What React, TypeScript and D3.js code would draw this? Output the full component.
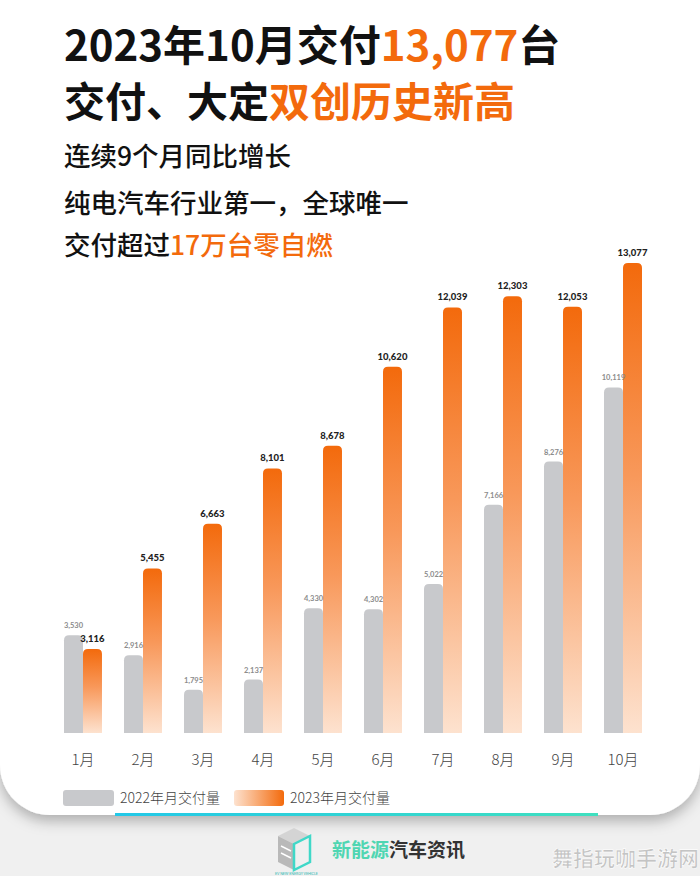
import * as d3 from "d3";

const months = ["1月", "2月", "3月", "4月", "5月", "6月", "7月", "8月", "9月", "10月"];
const series = ["2022年月交付量", "2023年月交付量"];
const deliveries2022 = [3530, 2916, 1795, 2137, 4330, 4302, 5022, 7166, 8276, 10119];
const deliveries2023 = [3116, 5455, 6663, 8101, 8678, 10620, 12039, 12303, 12053, 13077];

const W = 700;
const H = 876;
const baseline = 733;
const CJK = '"Noto Sans CJK SC", "Noto Sans", sans-serif';
const NUM = 'Lato, "Noto Sans CJK SC", sans-serif';
const ORANGE = "#f36a0c";
const GRAY = "#c8c9cc";

// rounded-top bar, flat bottom
const barPath = (x: number, y: number, w: number, h: number, r: number) => {
  const rr = Math.min(r, h, w / 2);
  return `M${x},${y + h}V${y + rr}Q${x},${y} ${x + rr},${y}H${x + w - rr}Q${x + w},${y} ${x + w},${y + rr}V${y + h}Z`;
};

export default function App() {
  const x = d3.scaleBand<string>().domain(months).range([64, 642]).paddingInner(0.367).paddingOuter(0);
  const inner = d3.scaleBand<string>().domain(series).range([0, x.bandwidth()]);
  const y = d3
    .scalePow()
    .exponent(1.2)
    .domain([0, d3.max(deliveries2023)!])
    .range([baseline, 263]);

  const rows = months.map((m, i) => ({ m, a: deliveries2022[i], b: deliveries2023[i] }));
  const fmt = d3.format(",");

  return (
    <div style={{ position: "absolute", left: 0, top: 0 }}>
      <svg width={W} height={H} viewBox={`0 0 ${W} ${H}`} style={{ display: "block" }}>
        <defs>
          <linearGradient id="barGrad" x1="0" y1="0" x2="0" y2="1">
            <stop offset="0%" stopColor="#f36a0c" />
            <stop offset="45%" stopColor="#f8985a" />
            <stop offset="100%" stopColor="#fde2cf" />
          </linearGradient>
          <linearGradient id="legendGrad" x1="0" y1="0" x2="1" y2="0">
            <stop offset="0%" stopColor="#fde2cf" />
            <stop offset="100%" stopColor="#f36a0c" />
          </linearGradient>
          <linearGradient id="lineGrad" x1="0" y1="0" x2="1" y2="0">
            <stop offset="0%" stopColor="#22c8e8" />
            <stop offset="100%" stopColor="#3fe0bf" />
          </linearGradient>
          <filter id="cardShadow" x="-10%" y="-10%" width="120%" height="120%">
            <feDropShadow dx="0" dy="6" stdDeviation="7" floodColor="#000" floodOpacity="0.28" />
          </filter>
        </defs>

        <rect x={0} y={0} width={W} height={H} fill="#f0f0f0" />
        <rect x={0} y={-80} width={W} height={895} rx={50} fill="#fff" filter="url(#cardShadow)" />
        <rect x={115} y={813} width={483} height={3} fill="url(#lineGrad)" />

        {/* headline */}
        <g fontFamily={CJK} fill="#111">
          <text x={64} y={61} fontSize={42} fontWeight={700}>
            2023年10月交付<tspan fill={ORANGE}>13,077</tspan>台
          </text>
          <text x={64} y={117} fontSize={41} fontWeight={700}>
            交付、大定<tspan fill={ORANGE}>双创历史新高</tspan>
          </text>
          <text x={64} y={166} fontSize={26.5} fontWeight={500}>
            连续9个月同比增长
          </text>
          <text x={64} y={213} fontSize={26.5} fontWeight={500}>
            纯电汽车行业第一，全球唯一
          </text>
          <text x={64} y={255} fontSize={26.5} fontWeight={500}>
            交付超过<tspan fill={ORANGE}>17万台零自燃</tspan>
          </text>
        </g>

        {/* bars */}
        {rows.map((d) => {
          const gx = x(d.m)!;
          const bw = inner.bandwidth();
          const ax = gx + inner(series[0])!;
          const bx = gx + inner(series[1])!;
          const ay = y(d.a);
          const by = y(d.b);
          return (
            <g key={d.m}>
              <path d={barPath(ax, ay, bw, baseline - ay, 5)} fill={GRAY} />
              <path d={barPath(bx, by, bw, baseline - by, 5)} fill="url(#barGrad)" />
              <text x={ax + bw / 2} y={ay - 7} textAnchor="middle" fontFamily={NUM} fontSize={7.5} fontWeight={700} fill="#8c8c8c">
                {fmt(d.a)}
              </text>
              <text x={bx + bw / 2} y={by - 7} textAnchor="middle" fontFamily={NUM} fontSize={9.5} fontWeight={900} fill="#222">
                {fmt(d.b)}
              </text>
              <text x={gx + x.bandwidth() / 2} y={765} textAnchor="middle" fontFamily={CJK} fontSize={15} fontWeight={300} fill="#444">
                {d.m}
              </text>
            </g>
          );
        })}

        {/* legend */}
        <g fontFamily={CJK} fontSize={14} fill="#444" fontWeight={300}>
          <rect x={63} y={790} width={51} height={16} rx={3} fill={GRAY} />
          <text x={120} y={803}>{series[0]}</text>
          <rect x={234} y={790} width={50} height={16} rx={3} fill="url(#legendGrad)" />
          <text x={290} y={803}>{series[1]}</text>
        </g>

        {/* footer logo */}
        <g>
          <polygon points="278,836 294,828 310,836 294,844" fill="#d4d4d4" />
          <polygon points="278,836 294,844 294,870 278,862" fill="#b9b9b9" />
          <polygon points="294,844 310,836 310,862 294,870" fill="none" stroke="#3fd8c8" strokeWidth={2.5} />
          <line x1={281} y1={846} x2={291} y2={851} stroke="#fff" strokeWidth={1.5} />
          <line x1={281} y1={853} x2={291} y2={858} stroke="#fff" strokeWidth={1.5} />
          <text x={275} y={875} fontFamily={NUM} fontSize={3.5} fill="#2bb8b0">EV NEW ENERGY VEHICLE</text>
        </g>
        <text x={332} y={857} fontFamily={CJK} fontSize={19} fontWeight={700} fill="#333">
          <tspan fill="#4fd6b2">新能源</tspan>汽车资讯
        </text>
        <text x={552} y={866} fontFamily={CJK} fontSize={21} fontWeight={700} fill="#c4c4c4" stroke="#fff" strokeWidth={0.6}>
          舞指玩咖手游网
        </text>
      </svg>
    </div>
  );
}
